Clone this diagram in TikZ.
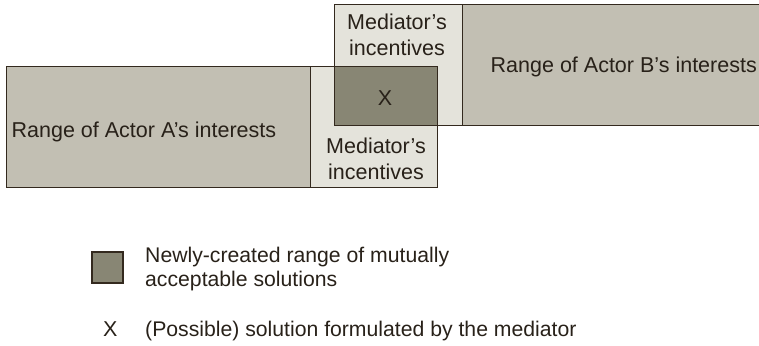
\documentclass[tikz,border=0pt]{standalone}
\usepackage{fontspec}
\setmainfont{Liberation Sans}
\definecolor{midfill}{RGB}{194,191,179}
\definecolor{lightfill}{RGB}{228,227,219}
\definecolor{darkfill}{RGB}{136,134,116}
\definecolor{edgecol}{RGB}{51,41,30}
\definecolor{inkcol}{RGB}{40,33,25}
\begin{document}
\begin{tikzpicture}[x=1pt,y=-1pt,
  region/.style={draw=edgecol,line width=1.3pt,inner sep=0pt,anchor=north west},
  label/.style={text=inkcol,inner sep=0pt,font=\fontsize{21.5}{25.5}\selectfont,align=center},
  legendtext/.style={text=inkcol,inner sep=0pt,font=\fontsize{21.2}{24.5}\selectfont,align=left}]
\useasboundingbox (0,0) rectangle (759,345);
% Actor A's range with the mediator's extension
\node[region,fill=midfill,minimum width=304pt,minimum height=121pt] (rangeA) at (6,66) {};
\node[region,fill=lightfill,minimum width=127pt,minimum height=121pt] (medA) at (310,66) {};
% Actor B's range with the mediator's extension
\node[region,fill=lightfill,minimum width=128pt,minimum height=121pt] (medB) at (334,4) {};
\node[region,fill=midfill,minimum width=320pt,minimum height=121pt] (rangeB) at (462,4) {};
% overlap: newly created range
\node[region,fill=darkfill,minimum width=103pt,minimum height=59pt] (overlap) at (334,66) {};
% labels
\node[label,anchor=base west] (labA) at (11.5,137) {Range of Actor A’s interests};
\node[label,anchor=base west] (labB) at (490.5,72) {Range of Actor B’s interests};
\node[label] (labMedB) at (397,35) {Mediator’s\\incentives};
\node[label] (labMedA) at (376,159) {Mediator’s\\incentives};
\node[label] (labX) at (385,98.4) {X};
% legend
\node[draw=edgecol,line width=1.3pt,fill=darkfill,minimum size=31pt,inner sep=0pt] (legbox) at (107.5,267.5) {};
\node[legendtext,anchor=west] (legtext1) at (145,269) {Newly-created range of mutually\\acceptable solutions};
\node[label] (legX) at (110.3,329.2) {X};
\node[legendtext,anchor=base west] (legtext2) at (145,336.7) {(Possible) solution formulated by the mediator};
\end{tikzpicture}
\end{document}
